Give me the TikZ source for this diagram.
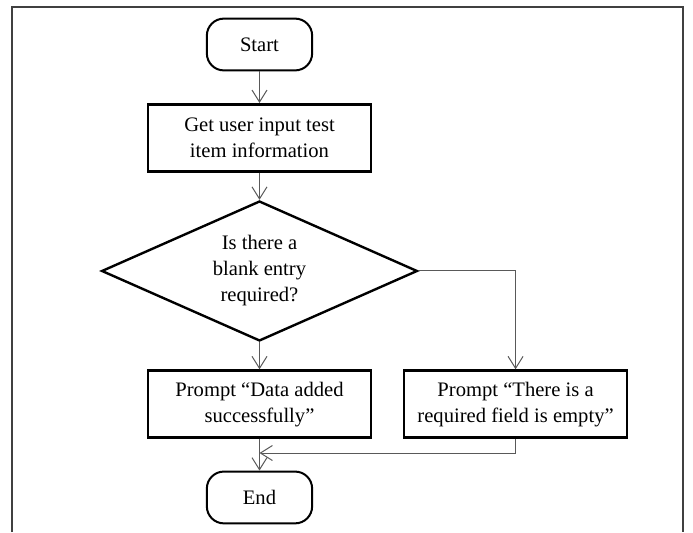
\documentclass[tikz,border=0pt]{standalone}
\usepackage{fontspec}
\setmainfont{Liberation Serif}
\usetikzlibrary{shapes.geometric, arrows.meta}
\tikzstyle{startstop} =[rectangle, rounded corners=8.5pt, minimum width=1.85cm, minimum height=0.91cm, text centered, draw=black, line width=1pt]
\tikzstyle{process} =[rectangle, minimum width=3.92cm, minimum height=1.18cm, text centered, align=center, draw=black, line width=1.3pt]
\tikzstyle{decision} =[diamond, aspect=2.26, inner sep=0pt, minimum width=5.55cm, minimum height=2.46cm, text centered, align=center, draw=black, line width=1.2pt]
\tikzstyle{arrow} =[draw=black!65, line width=0.5pt, ->, >={Straight Barb[length=6pt,width=7.5pt]}]
\begin{document}
\begin{tikzpicture}[node distance=2.34cm, font=\fontsize{10.3}{13}\selectfont]
\fill [white] (-129.75pt,22.25pt) rectangle (216.75pt,-243.75pt);
\useasboundingbox (-129.75pt,22.25pt) rectangle (216.75pt,-243.75pt);
\draw [black!75, line width=1pt] (-123.75pt,-243.75pt) |- (211.75pt,18.75pt) -- (211.75pt,-243.75pt);

\node (start) [startstop] {Start};
\node (in1) [process, below of=start, yshift=0.7cm] {Get user input test\\item information};
\node (dec1) [decision, below of=in1] {Is there a\\blank entry\\required?};
\node (pro1) [process, below of=dec1] {Prompt “Data added\\successfully”};
\node (pro2) [process, right of=pro1, xshift=2.16cm] {Prompt “There is a\\required field is empty”};
\node (stop) [startstop, below of=pro1, yshift=0.7cm] {End};
\coordinate (join) at ([yshift=-7pt]pro1.south);

\draw [arrow] (start)--(in1);
\draw [arrow] (in1)--(dec1);
\draw [arrow] (dec1)--(pro1);
\draw [arrow] (dec1)-|(pro2);
\draw [arrow] (pro2)|-(join);
\draw [arrow] (pro1)--(stop);
\end{tikzpicture}
\end{document}
